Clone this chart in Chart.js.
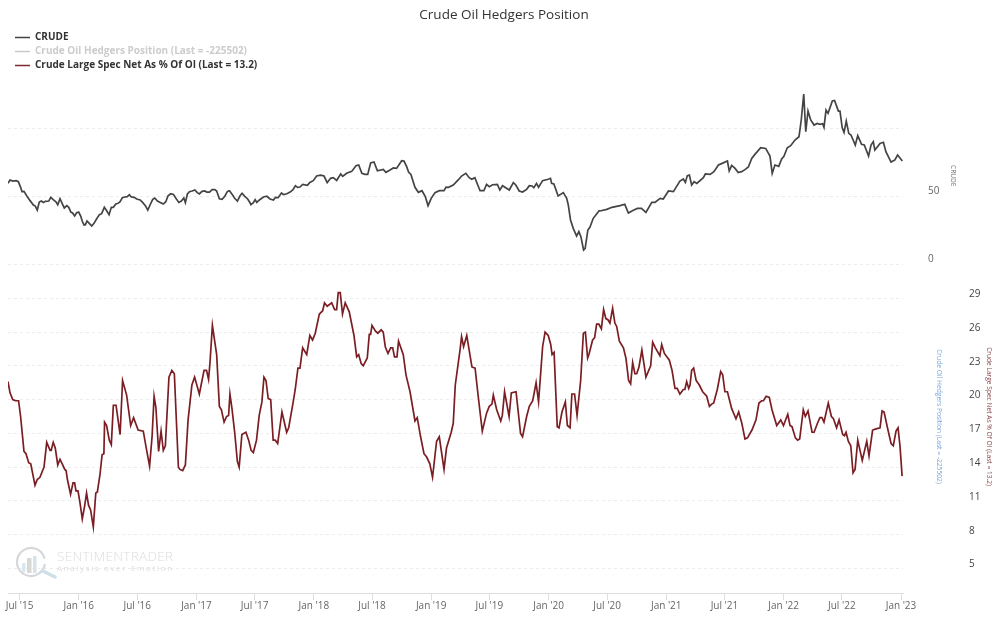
<!DOCTYPE html>
<html>
<head>
<meta charset="utf-8">
<title>Crude Oil Hedgers Position</title>
<script src="https://cdn.jsdelivr.net/npm/chart.js@4/dist/chart.umd.min.js"></script>
<style>html,body{margin:0;padding:0;background:#fff}canvas{display:block}</style>
</head>
<body>
<canvas id="c" width="1000" height="625"></canvas>
<script>
const firstWeek = '2015-05-26';
const tickDates = ['2015-07-01','2016-01-01','2016-07-01','2017-01-01','2017-07-01','2018-01-01','2018-07-01','2019-01-01','2019-07-01','2020-01-01','2020-07-01','2021-01-01','2021-07-01','2022-01-01','2022-07-01','2023-01-01'];
const tickLabels = ["Jul '15","Jan '16","Jul '16","Jan '17","Jul '17","Jan '18","Jul '18","Jan '19","Jul '19","Jan '20","Jul '20","Jan '21","Jul '21","Jan '22","Jul '22","Jan '23"];
const crudeTicks = [0,50,100];
const crudeLabelled = [0,50];
const specTicks = [5,8,11,14,17,20,23,26,29];

const crudeWeeks = [
0,.9,2.1,3.6,4.6,5.6,6.2,7.1,8.3,9.8,11.3,12.1,13,13.9,14.8,15.7,16.6,18.1,19,20.1,
21.3,22.1,23.1,24.3,25,26.1,27,27.9,28.7,29.6,30.5,31.4,32.3,33,33.8,34.4,35.1,36.1,37.2,38.2,
39.4,40.6,41.6,42.8,43.9,44.9,45.9,46.8,47.9,48.9,49.8,50.8,52,53,53.9,54.8,56,57.2,58.7,59.9,
61,62.1,63.1,64.3,65.2,66.4,67.6,69,70.1,71.1,72.3,73.5,74.5,75.9,77,78.1,78.8,79.7,80.6,81.8,
83,84.1,85,86.2,87.4,88.3,89.5,90.7,91.9,92.7,93.9,95.1,96.3,97.5,98.4,99.6,100.7,101.9,103.1,104,
105.2,106.4,107.3,107.9,109,109.8,110.5,111.7,113.5,115,116.4,117.9,118.8,120,121.5,122.4,123.9,125.3,126.5,127.7,128.6,
129.7,130.9,133,134.1,135.6,137.1,138.9,140.4,141.8,143.3,144.5,146,147.8,148.7,150.4,152.7,154.6,155.8,157.2,158.6,
159.8,161.1,162.6,164.1,166.7,167.9,169.7,171.2,172.6,174.9,175.9,177.1,178,179,180.8,182.3,183.9,185.4,186.6,188,
189.7,191.6,193.7,194.6,195.7,197.8,200,201.5,203.4,204.9,206,207.4,209.7,211.4,212.6,213.8,215.3,217.4,218.5,219.7,
222.7,224.5,225.6,227.1,228.6,230.4,231.6,232.8,233.6,234.8,235.7,237.5,240,241,241.5,242.5,244.4,246.7,248.2,248.9,
249.9,251.1,252.6,253.6,254.5,255.7,256.4,257.6,258.5,260,262.6,
263,266,268.3,271.9,274,275.6,277.8,279.6,281.4,283.4,286,287.4,289.7,291.1,293.4,295.6,298.5,300,300.9,301.8,
302.7,303.7,304.8,306,308.9,309.8,311.9,313.6,315.6,317,319.6,320.4,321.5,323,324.4,325.9,327.4,328.9,330.4,331.8,
334.4,336.6,338.5,339.5,340.7,342.4,343.7,344.7,346.2,347.7,349.6,351.4,352.4,353.5,354.4,355.4,356.6,358.1,359.5,360.7,
361.9,362.5,363.4,364.3,366.2,367.2,368.9,369.6,370.6,371.4,372.4,373.5,374.5,376.4,377.5,379.2,380.4,382.3,383.4,384.4,
385.1,387.4,388.9,390,392.3,394,395.2,397.3];
const crudeValues = [
59.3,61.8,61,61.3,60.5,56.4,53.2,53.4,50.2,46.6,43.4,42.6,39.7,45.6,46.3,45.3,46.1,46.3,49,47.3,
45.8,43.6,48,43.6,41.2,42.9,41.7,38.2,37.5,35.3,37.7,38.2,35.3,31.4,28.7,28.9,31.6,29.9,27.9,29.9,
33.3,36.3,37,41.7,39,36.3,41.7,41.7,44.1,44.6,45.8,48.8,49.3,49.5,51,49.3,49,47.8,47.1,45.1,
42.9,39.7,43.4,47.5,48.5,46.3,45.3,44.1,45.8,50.2,51.7,51.2,48.5,45.3,46.3,48.5,45.1,51.5,53.2,53.7,
54.4,52.5,51.5,53.4,53.7,52.9,52.9,54.7,54.7,53.7,48,47.5,49.8,53.4,53.9,51.2,48.3,46.3,50.2,52,
49.8,48,45.6,43.6,45.1,47.3,45.3,47.1,49.3,49.8,47.8,47.1,49,48.8,52.2,51,51.7,52.9,54.4,57.6,56.4,
56.6,58.6,57.8,60,61.3,64.7,65.4,64.7,59.8,63,63.5,61.5,66.2,64.5,66.7,68.1,72.3,72.8,66.7,65.9,
65.9,74.3,75,68.6,69.6,67.4,69.1,70.6,70.3,76,75.7,71.6,67.4,65.9,56.4,52.7,53.9,49.5,42.9,48.3,
52.5,53.9,53.9,56.6,56.4,58.1,61.8,64.7,66.7,63.5,62.3,63.5,53.9,53.9,58.6,56.9,58.3,58.6,54.4,57.6,
54.4,59.8,58.1,53.7,52.9,54.9,57.6,57.4,56.1,59.3,56.4,61.3,62.3,63,59.3,58.8,50,52.5,48.3,43.4,
32.4,26.2,20.6,23.8,20.1,10.3,11.5,25,27,33.6,39.2,
39,40.2,41.7,42.9,43.9,37.5,39.5,40.9,40.9,38,45.3,45.3,48.3,47.8,53.7,53.2,61,62.5,60,65,
65.4,58.1,60.5,59.3,63.5,66.2,65.9,67.9,72.8,73.8,75.7,68.4,72.5,70.3,67.2,67.9,69.4,71.3,77.7,80.6,
85.5,85,79.4,66.7,72.8,71.8,77.2,79.2,85.5,87,91.2,93.6,105.9,125,97.3,112.5,105.9,102.2,103.4,102.7,
103.2,100.5,113.2,110.8,119.9,120.3,112.5,112.5,100.2,96.8,105.1,96.1,94.9,87.5,94.4,88,87.5,79.4,87.5,90,
83.8,88.7,89.5,82.6,75,76.5,80.1,75.7];

const specWeeks = [
0,.9,2.1,3.3,4.7,5.6,7.1,8,9.2,10.1,12,13,14.2,16,17.2,18.7,19.2,20.1,21,22.1,
23.1,24.3,25.2,25.8,26.4,27.8,28.9,29.6,30.2,31.1,32,33,34,34.9,35.8,36.7,37.9,39,39.7,40.9,
41.8,42.6,42.9,43.8,45,45.9,46.8,48,49.8,50.9,52.7,54.5,55.8,57.8,60.1,61.6,62.9,64,64.9,65.7,
66.9,68,69,69.9,71.5,72.8,73.9,75.7,76.4,77.6,78.8,80,81.7,82.9,85,87.1,88.2,89.1,89.7,90.8,
92.7,93.9,94.8,96,97.1,98,
98.6,99.5,100.7,101.9,102.7,103.9,105.7,106.9,108,109,110.4,111.6,112.8,113.7,114.6,115.6,116.7,117.8,118.7,119.8,
121.7,123.8,124.7,126.7,127.6,128.8,129.7,130.9,132.7,134.1,135.3,136.5,138.3,139.8,140.6,141.8,143.8,145.1,146,146.7,
147.6,148.6,149.8,151.6,153.7,154.9,155.8,156.9,157.8,159.6,160.5,161.1,161.7,163.2,164.3,165.8,166.7,167.6,168.8,170,
170.9,171.7,172.8,173.5,175.6,176.8,178.6,180.8,181.8,183.3,184.8,186,187.4,188.6,190.4,191.6,193.7,194.8,196.9,197.8,198.7,
200.8,201.5,202.4,203.8,205.2,206.1,207.5,209,210.7,212.6,213.8,215,215.6,217.1,218.9,219.6,220.6,222.6,223.6,225.7,
227.7,228.6,230.4,231.6,233.1,234.6,235.7,237.5,238.6,240,241.1,241.7,242.6,244,244.8,246.1,247.6,248.5,249.7,250.5,
251.7,252.8,254.4,255.6,256.5,257.5,258.2,259.7,260.6,261.5,262.5,263.6,264.6,265.6,266.5,267.4,268.6,269.6,270.4,271.6,
273.4,274.5,275.7,276.6,277.5,278.5,279.3,280.3,281.6,283.4,285.5,286.4,287.6,289.6,290.4,291.6,293.8,295,296.3,297.3,
298.5,300,300.7,301.5,302.4,
303,303.7,304.6,305.7,307.1,308.6,310.4,311.6,312.6,313.5,315.1,316.6,317.5,318.5,319.6,321.5,323.4,324.6,326,327.4,
328.5,330.5,332.3,333.6,334.8,335.6,336.8,338.2,339.4,341.5,343.3,344.5,346.4,347.4,348.3,349.8,350.8,351.7,353.3,354.2,
355.4,357.2,358.1,359.6,360.7,361.6,362.5,364.4,365.8,366.7,368.1,369.2,370.8,371.6,372.3,373.3,374.4,375.4,376.3,377.5,
379.5,381.5,382.5,384.1,385.6,387.4,388.3,389.2,390.7,392.3,393.3,394.5,395.4,396.3,397.2];
const specValues = [
21.6,20.6,20,19.9,19.9,18.5,15.4,15.2,14.4,14.3,12.4,12.9,13.1,14,16.2,15.5,15.5,16.2,15.7,14.2,
14.7,14.2,13.8,13.7,12.9,11.6,12.6,12.6,11.9,11.9,10.8,9.4,10.5,11.7,10.6,10.2,8.7,11.7,11.8,13.4,
15.1,15.2,18,17.7,16.4,16,19.5,19.5,16.9,21.7,20.4,17.7,18.4,17.3,17.2,15.5,14.1,16.7,20.3,19.3,
15.4,17.2,15.5,15.9,22,22.6,22.3,14,13.8,13.7,14.2,18.2,21.3,22,20.5,22.6,22.6,21.8,23.2,26.6,
24,19.4,19.1,18,18.5,18.6,
20.5,19.2,17.1,14.5,14,16.9,17.1,16.4,15.5,15.3,16.4,18.6,19.8,22,21.7,20.1,20,16.4,16.4,16.1,
18.9,17.1,17.5,19.8,20.9,22.8,22.8,24.6,24,25.7,25.3,25.9,27.6,27.9,28.6,28.3,28.6,28,28,29.5,
29.5,27.6,28.6,27.8,25.7,23.8,24,23.2,23,23.7,25.8,25.8,26.6,26.1,25.9,26.2,26,24.7,24.1,24.6,
24.6,23.8,23.8,25.2,24,22.2,20.7,18.1,18.4,16.7,15.2,14.9,14.3,13.1,16.3,16.7,13.8,15.7,17.1,17.9,21.3,
24.4,25.6,24.7,25.7,24,22.9,22.8,20.1,17.2,18.8,19.4,19.6,20.4,19.1,18.1,18.6,20.7,18.5,20.6,20.7,
17,16.7,18.5,19.4,19.9,21.5,19.8,24.7,26,25.7,24.9,24,24.2,17.6,17.5,18.9,19.8,17.7,17.5,20.5,
20.5,18.6,21.7,25.9,26,23.7,24.1,25.3,25.5,26.7,26.7,26.3,28,27.2,27.1,26.8,28.1,26.8,26.5,25.2,
24.6,23.7,21.7,21.4,23.3,22.3,22.3,22.9,24.4,22,23,25.1,24.6,23.9,24.9,24.1,23.5,22.6,21,21,
20.5,20.9,20.9,21.6,21,
21.3,22.6,22.8,21.7,21.3,20.7,20.3,19.4,19.6,19.7,20.9,22.5,22.2,20.7,20.7,19.2,18.3,18.9,17.9,16.5,
16.6,17.3,18.2,19.7,19.9,19.9,20.3,20.2,19.1,17.7,18.2,17.7,18.7,17.7,17.6,16.6,16.4,16.5,19.1,18.5,
19,17.1,17.1,17.9,18.4,18.4,18,19.7,18.5,18.3,17.5,18.2,16.9,16.8,17.1,16.3,15.9,13.5,13.8,16.4,
14.6,16.3,15,17.3,17.4,17.5,19,18.9,17.5,16.1,15.9,17.2,17.5,15.8,13.2];

const hedgersWeeks = [397.2];
const hedgersValues = [-225502];

const seriesNames = ['CRUDE','Crude Oil Hedgers Position (Last = -225502)','Crude Large Spec Net As % Of OI (Last = 13.2)'];
const axisTitles = ['CRUDE','Crude Oil Hedgers Position (Last = -225502)','Crude Large Spec Net As % Of OI (Last = 13.2)'];

const FONT = '"Open Sans"';
const GRID = '#ececec';
const toWeek = d => (Date.parse(d) - Date.parse(firstWeek)) / 604800000;
const pairs = (xs, ys) => xs.map((x, i) => ({x, y: ys[i]}));
const setTicks = list => s => { s.ticks = list.map(value => ({value})); };
const setWidth = w => s => { s.width = w; s.paddingTop = 0; s.paddingBottom = 0; };

const watermark = {
  id: 'watermark',
  beforeDatasetsDraw(chart) {
    const c = chart.ctx;
    c.save();
    c.lineCap = 'round';
    c.strokeStyle = '#d4d8da'; c.lineWidth = 2.2;
    c.beginPath(); c.arc(31, 562, 14, 0.2, Math.PI * 2 - 0.3); c.stroke();
    c.fillStyle = '#dbe6ee'; c.fillRect(22, 563, 3.5, 9);
    c.fillStyle = '#d8d8d4'; c.fillRect(27, 558, 4.5, 15);
    c.fillStyle = '#d6e3ec'; c.fillRect(33, 556, 3.5, 17);
    c.strokeStyle = '#cfdfe9'; c.lineWidth = 3.5;
    c.beginPath(); c.moveTo(43, 571); c.lineTo(55, 577); c.stroke();
    c.fillStyle = '#dcdcdc';
    c.font = '300 13.5px ' + FONT; c.textBaseline = 'middle'; c.textAlign = 'left';
    c.letterSpacing = '0.3px';
    c.fillText('SENTIMENTRADER', 57, 557.5);
    c.font = '8px ' + FONT; c.letterSpacing = '1.65px';
    c.fillText('Analysis over Emotion', 57, 568.5);
    c.restore();
  }
};
const layoutTweaks = {
  id: 'layoutTweaks',
  afterLayout(chart) {
    chart.scales.ySpec.bottom -= 24;
    chart.scales.yHedgers.bottom -= 24;
    chart.scales.yCrude.top += 62;
    chart.legend.left += 3;
  }
};

new Chart(document.getElementById('c'), {
  type: 'line',
  plugins: [watermark, layoutTweaks],
  data: {
    datasets: [
      {label: seriesNames[0], data: pairs(crudeWeeks, crudeValues), xAxisID: 'x', yAxisID: 'yCrude', borderColor: '#444444', borderWidth: 1.7, pointRadius: 0, tension: 0},
      {label: seriesNames[1], data: pairs(hedgersWeeks, hedgersValues), xAxisID: 'x', yAxisID: 'yHedgers', borderColor: '#c9c9c9', borderWidth: 1.7, pointRadius: 0, hidden: true},
      {label: seriesNames[2], data: pairs(specWeeks, specValues), xAxisID: 'x', yAxisID: 'ySpec', borderColor: '#7b1e24', borderWidth: 1.7, pointRadius: 0, tension: 0}
    ]
  },
  options: {
    responsive: false,
    animation: false,
    layout: {padding: {left: 8, right: 0, top: 0, bottom: 0}},
    plugins: {
      tooltip: {enabled: false},
      title: {display: true, text: 'Crude Oil Hedgers Position', color: '#333333', font: {family: FONT, size: 13.5, weight: 'normal'}, padding: {top: 7, bottom: 2.3}},
      legend: {
        display: true, position: 'chartArea', align: 'start',
        title: {display: true, text: ' ', font: {family: FONT, size: 10, lineHeight: 1}, padding: {top: 18.5, bottom: 0}},
        labels: {
          usePointStyle: true, pointStyleWidth: 15, boxHeight: 7, padding: 4,
          font: {family: FONT, size: 10, weight: 'bold', lineHeight: 0.7},
          generateLabels: () => seriesNames.map((text, i) => ({
            text, datasetIndex: i, pointStyle: 'line', lineWidth: 1.7,
            strokeStyle: ['#444444', '#c9c9c9', '#7b2a30'][i],
            fillStyle: 'transparent',
            fontColor: i === 1 ? '#cccccc' : '#333333', hidden: false
          }))
        }
      }
    },
    scales: {
      x: {
        type: 'linear', position: 'bottom', min: 0, max: 397.6,
        afterBuildTicks: setTicks(tickDates.map(toWeek)),
        afterFit: s => { s.height = 32; },
        grid: {drawOnChartArea: false, drawTicks: true, tickLength: 7, color: '#dddddd'},
        border: {color: '#dddddd'},
        ticks: {
          autoSkip: false, maxRotation: 0, padding: 0, color: '#666666', font: {family: FONT, size: 10},
          callback: (v, i) => tickLabels[i]
        }
      },
      yCrude: {
        axis: 'y', type: 'linear', position: 'right', stack: 'A', stackWeight: 238.5, weight: 1,
        min: 0, max: 175.4, afterBuildTicks: setTicks(crudeTicks), afterFit: setWidth(55),
        grid: {drawTicks: false, color: GRID}, border: {display: false, dash: [3, 3]},
        ticks: {padding: 25, labelOffset: -4.5, color: '#666666', font: {family: FONT, size: 10}, callback: v => crudeLabelled.includes(v) ? String(v) : ''},
        title: {display: true, text: axisTitles[0], color: '#777777', font: {family: FONT, size: 6.6}, padding: {top: 1.4, bottom: 0}}
      },
      yHedgers: {
        axis: 'y', type: 'linear', position: 'right', stack: 'A', stackWeight: 329, weight: 2,
        min: -400000, max: 0, afterFit: setWidth(55),
        grid: {display: false}, border: {display: false}, ticks: {display: false},
        title: {display: true, text: axisTitles[1], color: '#7aa6d8', font: {family: FONT, size: 6.7}, padding: {top: 15, bottom: 0}}
      },
      ySpacer: {
        axis: 'y', type: 'linear', position: 'right', stack: 'B', stackWeight: 238.5, weight: 3, display: false
      },
      ySpec: {
        axis: 'y', type: 'linear', position: 'right', stack: 'B', stackWeight: 329, weight: 4,
        min: 2.82, max: 32.05, afterBuildTicks: setTicks(specTicks), afterFit: setWidth(42),
        grid: {drawTicks: false, color: GRID}, border: {display: false, dash: [3, 3]},
        ticks: {padding: 11, labelOffset: -4, color: '#444444', font: {family: FONT, size: 10}},
        title: {display: true, text: axisTitles[2], color: '#8b4a4e', font: {family: FONT, size: 6.6}, padding: {top: 7, bottom: 0}}
      }
    }
  }
});
</script>
</body>
</html>
